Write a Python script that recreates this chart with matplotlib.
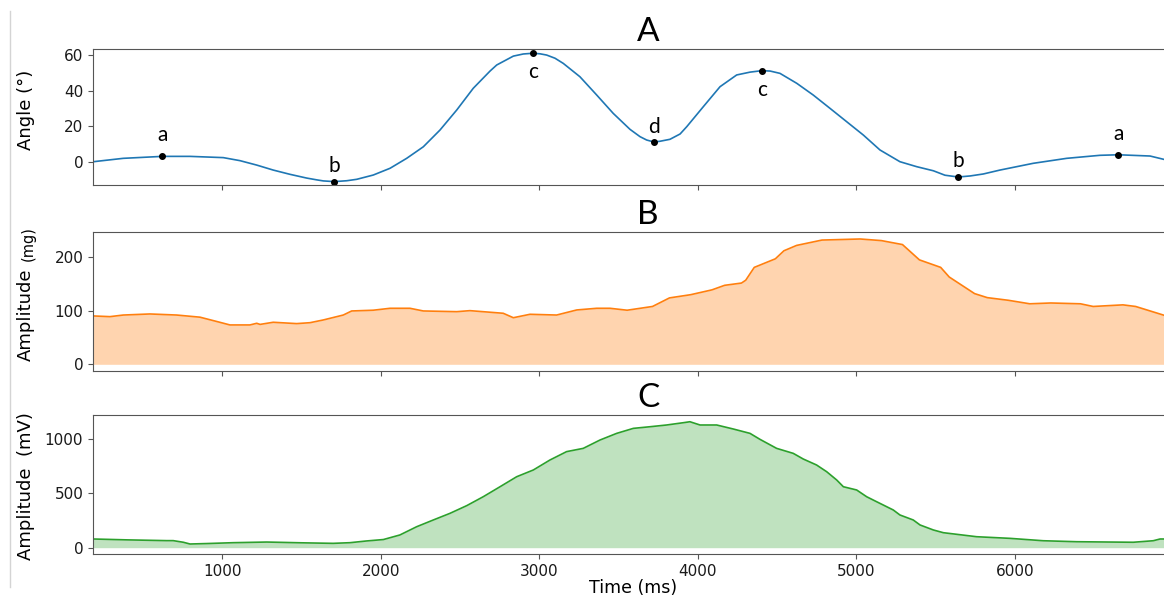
import matplotlib
matplotlib.use("Agg")
import matplotlib.pyplot as plt
from matplotlib.lines import Line2D

# panel A: joint angle (deg)
angle_t = [187, 376, 622, 797, 1007, 1112, 1218, 1322, 1428, 1533, 1596, 1638,
           1707, 1786, 1849, 1953, 2059, 2164, 2269, 2374, 2480, 2584, 2690,
           2732, 2837, 2900, 2959, 3005, 3047, 3100, 3152, 3257, 3363, 3467,
           3573, 3636, 3678, 3724, 3762, 3825, 3889, 3931, 4035, 4141, 4246,
           4331, 4404, 4457, 4519, 4625, 4729, 4835, 4940, 5045, 5150, 5276,
           5382, 5487, 5560, 5644, 5720, 5802, 5907, 6117, 6328, 6538, 6654,
           6854, 6942]
angle = [0.0, 1.9, 3.0, 3.0, 2.3, 0.6, -1.9, -4.7, -7.1, -9.2, -10.2, -10.8,
         -11.2, -10.7, -9.9, -7.5, -3.7, 1.9, 8.4, 17.8, 29.1, 41.3, 51.0,
         54.4, 59.4, 60.6, 61.0, 60.7, 60.0, 58.2, 55.3, 47.8, 37.5, 27.2,
         18.2, 14.1, 12.2, 11.1, 11.5, 12.6, 15.6, 19.7, 30.9, 42.2, 48.8,
         50.4, 51.2, 51.0, 49.7, 44.1, 37.5, 30.0, 22.5, 15.0, 6.6, 0.0,
         -2.8, -5.1, -7.6, -8.6, -8.0, -6.9, -4.7, -0.9, 1.9, 3.6, 3.9,
         3.2, 1.3]

# key points
key_t = [622, 1707, 2959, 3724, 4404, 5644, 6654]
key_angle = [3.0, -11.2, 61.0, 11.1, 51.2, -8.6, 3.9]
key_labels = ["a", "b", "c", "d", "c", "b", "a"]
key_offset = [21, 16, -19, 15, -19, 16, 21]  # pixels above/below point

# panel B: accelerometer amplitude (mg)
acc_t = [187, 292, 376, 544, 713, 860, 965, 1049, 1175, 1218, 1239, 1322,
         1470, 1554, 1638, 1764, 1817, 1953, 2059, 2185, 2269, 2480, 2563,
         2773, 2837, 2942, 3110, 3237, 3363, 3447, 3555, 3715, 3822, 3956,
         4090, 4170, 4276, 4303, 4357, 4490, 4544, 4624, 4784, 5025, 5159,
         5292, 5399, 5533, 5587, 5747, 5827, 5961, 6095, 6228, 6415, 6495,
         6683, 6763, 6942]
acc = [90.3, 89, 92, 94, 92, 88, 80, 73.5, 73.5, 76.6, 74.5, 78.5,
       76, 77.7, 82.8, 92, 99.6, 101, 104.6, 104.6, 99.6, 98.3, 100.2,
       95.3, 87, 93.4, 92, 101.5, 104.6, 104.6, 101, 108, 124, 130,
       139, 147.5, 151.7, 157, 181, 197, 212, 222, 232, 234, 231,
       223.6, 195, 181, 163, 132, 124.5, 119.5, 113, 114.5, 113, 108,
       111, 108, 91.6]

# panel C: EMG amplitude (mV)
emg_t = [187, 400, 649, 691, 755, 797, 900, 1068, 1281, 1500, 1700, 1806,
         1911, 2017, 2121, 2227, 2332, 2437, 2543, 2647, 2753, 2858, 2963,
         3068, 3173, 3278, 3384, 3489, 3594, 3699, 3804, 3909, 3951, 4015,
         4120, 4225, 4330, 4393, 4498, 4603, 4666, 4750, 4814, 4877, 4919,
         5003, 5066, 5129, 5234, 5276, 5360, 5403, 5487, 5550, 5760, 5970,
         6180, 6391, 6601, 6748, 6874, 6917, 6942]
emg = [80, 72, 65, 65, 50, 34, 38, 46, 52, 45, 40, 46,
       62, 75, 117, 193, 255, 316, 387, 469, 561, 653, 715,
       807, 884, 914, 991, 1052, 1098, 1113, 1129, 1150, 1159, 1129,
       1129, 1092, 1052, 997, 914, 868, 816, 761, 699, 623, 561,
       531, 469, 423, 347, 301, 255, 209, 163, 138, 101, 86,
       64, 55, 52, 50, 64, 80, 80]

fig = plt.figure(figsize=(11.64, 5.96), dpi=100)
H = 596.0
W = 1164.0
left = 93 / W
width = (1203 - 93) / W
ax_a = fig.add_axes([left, 1 - 185 / H, width, 136 / H])
ax_b = fig.add_axes([left, 1 - 371 / H, width, 138.7 / H])
ax_c = fig.add_axes([left, 1 - 554 / H, width, 139 / H])

title_font = ["Lato", "DejaVu Sans"]
spine_col = "#555555"

for ax in (ax_a, ax_b, ax_c):
    ax.set_xlim(185, 7188)
    ax.set_xticks([1000, 2000, 3000, 4000, 5000, 6000])
    ax.tick_params(labelsize=11, color=spine_col, labelcolor="#1a1a1a")
    for s in ax.spines.values():
        s.set_color(spine_col)

ax_a.tick_params(labelbottom=False)
ax_b.tick_params(labelbottom=False)

# A
ax_a.plot(angle_t, angle, color="C0", lw=1.2)
ax_a.plot(key_t, key_angle, "o", color="black", ms=4)
for t, v, lab, off in zip(key_t, key_angle, key_labels, key_offset):
    ax_a.annotate(lab, (t, v), xytext=(0, off), textcoords="offset pixels",
                  ha="center", va="center", fontsize=15, family=title_font)
ax_a.set_ylim(-13.1, 63.4)
ax_a.set_yticks([0, 20, 40, 60])
ax_a.set_title("A", fontsize=24, family=title_font, pad=6)
ax_a.set_ylabel("Angle (°)", fontsize=13)
ax_a.yaxis.set_label_coords(-0.052, 0.55)

# B
ax_b.fill_between(acc_t, acc, 0, color="C1", alpha=0.33, lw=0)
ax_b.plot(acc_t, acc, color="C1", lw=1.2)
ax_b.set_ylim(-12.5, 246.5)
ax_b.set_yticks([0, 100, 200])
ax_b.set_title("B", fontsize=24, family=title_font, pad=6)
ax_b.set_ylabel("Amplitude", fontsize=13)
ax_b.yaxis.set_label_coords(-0.052, 0.405)
ax_b.text(-0.052, 0.92, "(mg)", transform=ax_b.transAxes, rotation=90,
          rotation_mode="anchor", ha="center", va="bottom", fontsize=10.5)

# C
ax_c.fill_between(emg_t, emg, 0, color="C2", alpha=0.3, lw=0)
ax_c.plot(emg_t, emg, color="C2", lw=1.2)
ax_c.set_ylim(-58, 1221)
ax_c.set_yticks([0, 500, 1000])
ax_c.set_title("C", fontsize=24, family=title_font, pad=6)
ax_c.set_ylabel("Amplitude  (mV)", fontsize=13)
ax_c.yaxis.set_label_coords(-0.052, 0.49)
ax_c.set_xlabel("Time (ms)", fontsize=12.5)
ax_c.xaxis.set_label_coords(0.4865, -0.178)

# thin grey border line at the left of the screenshot
fig.add_artist(Line2D([10 / W, 10 / W], [1 - 11 / H, 1 - 587 / H],
                      color="#d4d4d4", lw=1))

fig.savefig("out.png", dpi=100)
